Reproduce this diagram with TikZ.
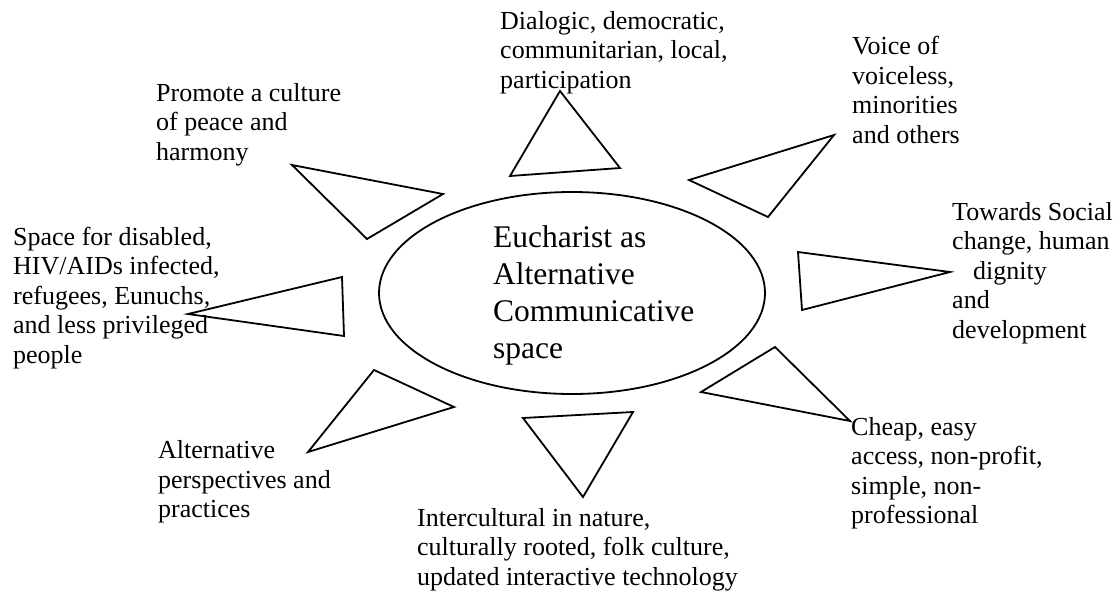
\documentclass[tikz,border=0pt]{standalone}
\usepackage{fontspec}
\setmainfont{Liberation Serif}
\usepackage{tikz}
\usetikzlibrary{shapes, calc, positioning}

\begin{document}
\begin{tikzpicture}[x=1pt,y=-1pt,line join=miter,
	lbl/.style={anchor=base west,align=left,inner sep=0pt,font=\fontsize{26}{29.5}\selectfont},
	ray/.style={draw,line width=1.8pt}]
	\useasboundingbox (0,0) rectangle (1119,600);
	% centre
	\node[draw, ellipse, minimum width=386pt, minimum height=202pt, line width=1.8pt] (c) at (572,293) {};
	\node[anchor=base west, align=left, inner sep=0pt, font=\fontsize{31.5}{36.7}\selectfont] (ct) at (493,358) {Eucharist as\\Alternative\\Communicative\\space};
	% rays
	\draw[ray] (560,91) -- (510,176) -- (620,168) -- cycle;
	\draw[ray] (834,135) -- (689,180) -- (768,217) -- cycle;
	\draw[ray] (798,252) -- (950,272) -- (802,310) -- cycle;
	\draw[ray] (775,347) -- (701,392) -- (850,421) -- cycle;
	\draw[ray] (523,418) -- (633,412) -- (583,497) -- cycle;
	\draw[ray] (374,370) -- (454,407) -- (308,452) -- cycle;
	\draw[ray] (342,277) -- (344,336) -- (188,314) -- cycle;
	\draw[ray] (292,165) -- (443,194) -- (367,239) -- cycle;
	% labels
	\node[lbl] (top) at (500,88) {Dialogic, democratic,\\communitarian, local,\\participation};
	\node[lbl] (topright) at (852,143) {Voice of\\voiceless,\\minorities\\and others};
	\node[lbl] (right) at (952,338) {Towards Social\\change, human\\\hspace*{21pt}dignity\\and\\development};
	\node[lbl] (botright) at (851,523.5) {Cheap, easy\\access, non-profit,\\simple, non-\\professional};
	\node[lbl] (bot) at (417,585) {Intercultural in nature,\\culturally rooted, folk culture,\\updated interactive technology};
	\node[lbl] (botleft) at (158,517.5) {Alternative\\perspectives and\\practices};
	\node[lbl] (left) at (13,363) {Space for disabled,\\HIV/AIDs infected,\\refugees, Eunuchs,\\and less privileged\\people};
	\node[lbl] (topleft) at (156,160) {Promote a culture\\of peace and\\harmony};
\end{tikzpicture}
\end{document}
